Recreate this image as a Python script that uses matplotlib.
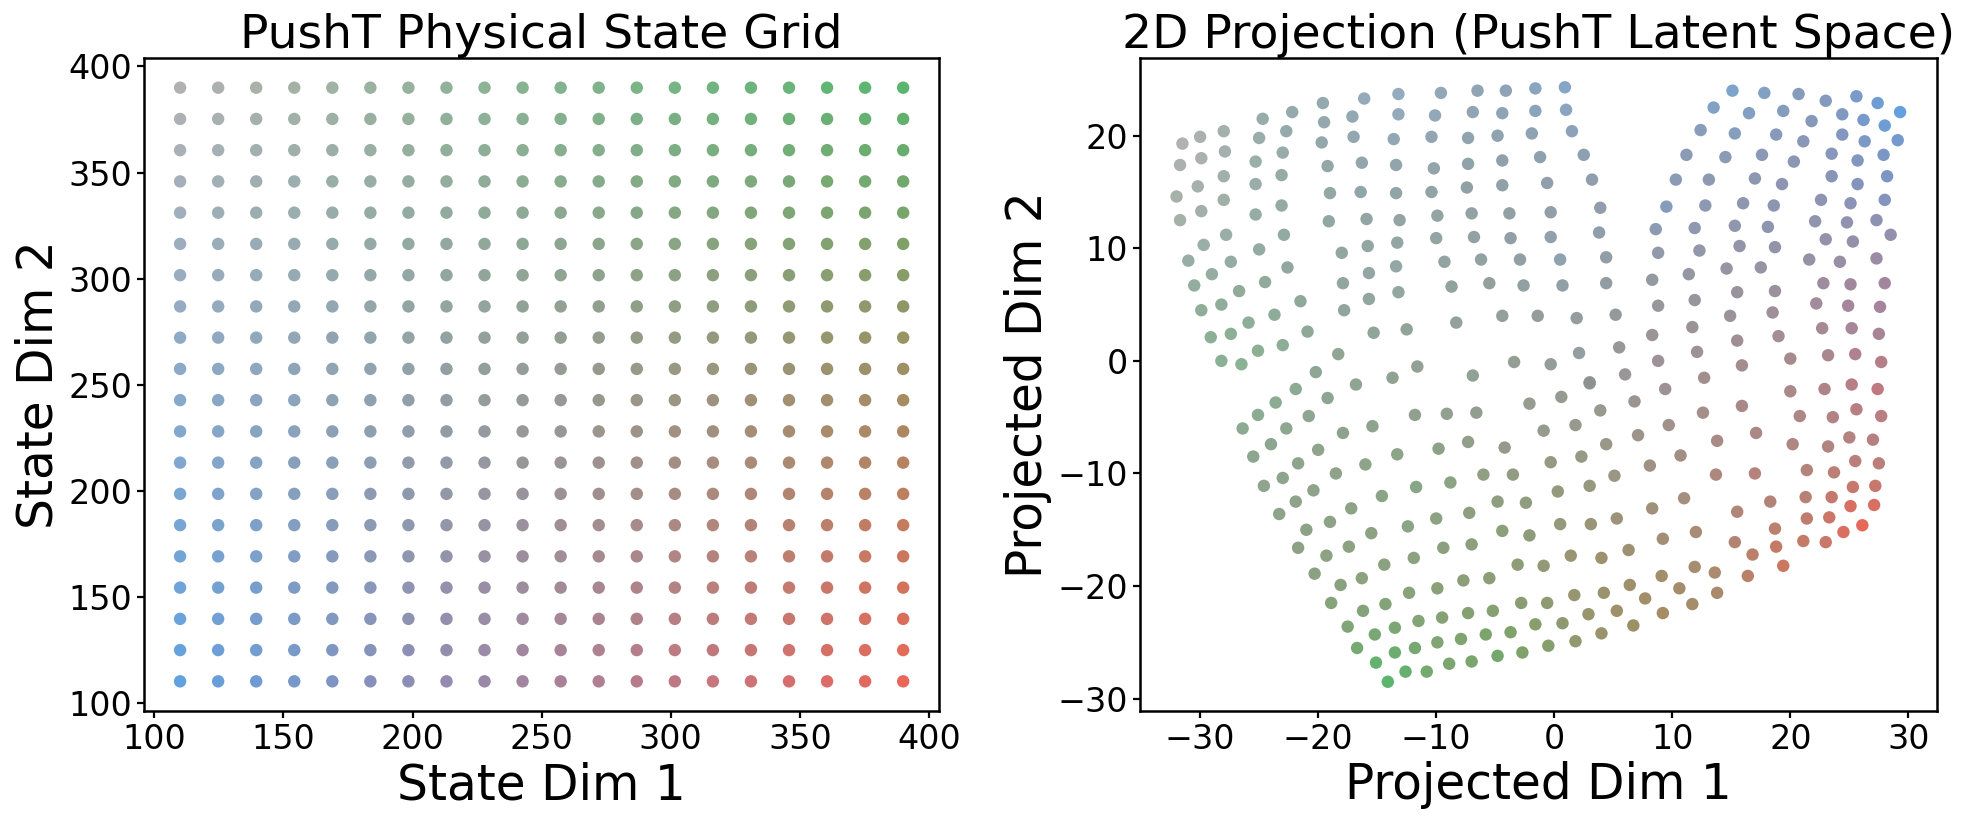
import numpy as np
import matplotlib
matplotlib.use("Agg")
import matplotlib.pyplot as plt

# physical grid (20 x 20)
state_dim1 = [110.0, 124.74, 139.47, 154.21, 168.95, 183.68, 198.42, 213.16, 227.89, 242.63,
              257.37, 272.11, 286.84, 301.58, 316.32, 331.05, 345.79, 360.53, 375.26, 390.0]
state_dim2 = [110.0, 124.74, 139.47, 154.21, 168.95, 183.68, 198.42, 213.16, 227.89, 242.63,
              257.37, 272.11, 286.84, 301.58, 316.32, 331.05, 345.79, 360.53, 375.26, 390.0]

# projected latent points
proj_x = [
    # upper left lobe
    -13.2, -9.6, -6.5, -16.1, -19.6, -22.2, -24.7, -28.0, -30.0, -31.5,
    -13.2, -10.1, -6.9, -17.1, -19.5, -22.7, -25.0, -17.0, -13.6, -10.4,
    -7.3, -19.7, -27.9, -31.7, -29.9, -25.3, -23.0, -19.2, -16.3, -13.4,
    -10.2, -7.3, -28.0, -30.2, -32.0, -25.3, -23.1, -19.0, -16.4, -13.4,
    -10.4, -7.4, -28.0, -29.9, -31.7, -25.3, -23.1, -19.1, -15.9, -13.1,
    -9.9, -7.0, -27.8, -29.7, -31.0, -25.0, -22.9, -18.0, -15.8, -13.3,
    -10.0, -6.8, -27.4, -29.0, -30.5, -22.6, -17.9, -15.7, -13.4, -9.3,
    -6.2, -26.7, -28.2, -29.9, -24.5, -21.5, -17.8, -15.7, -13.2, -8.7,
    -5.5, -25.9, -27.4, -29.1, -23.7, -20.9, -15.3, -12.5, -8.3, -25.1,
    -26.5, -28.2, -23.0, -18.3, -20.2, -13.7, -11.6, -6.9,
    # upper middle
    -4.1, -1.6, 0.9, -4.4, -1.6, 1.0, -4.8, -1.9, 1.5, -4.4, -1.2, 2.5,
    -4.4, -0.6, 3.2, -3.8, -0.3, 3.9, -3.7, -0.3, 3.8, -2.9, 0.5, 4.4,
    -2.6, 0.7, 4.4, -4.4, -1.4, 1.9, 5.2, -3.4, -0.3, 2.1, 5.5, 3.0, 6.0,
    # upper right lobe
    15.1, 17.8, 20.7, 23.0, 25.6, 27.4, 29.3,
    13.5, 16.5, 19.4, 21.8, 24.4, 26.2, 28.0, 29.1,
    12.4, 15.3, 18.8, 21.1, 24.4, 26.3,
    11.2, 14.5, 17.6, 20.3, 23.5, 25.7, 27.9,
    10.3, 13.1, 17.0, 19.3, 23.5, 25.7, 28.2,
    9.5, 12.8, 16.0, 18.6, 22.6, 25.1, 28.0,
    8.6, 11.9, 15.3, 18.1, 22.1, 24.8, 27.3, 28.5,
    8.8, 12.3, 15.7, 18.7, 23.0, 25.3,
    8.3, 11.4, 14.6, 17.5, 21.6, 24.2, 27.3,
    8.8, 11.9, 15.5, 18.7, 22.8, 25.1, 28.0,
    8.3, 11.7, 14.9, 18.5, 22.2, 24.9, 27.6,
    8.8, 12.1, 15.5, 19.0, 22.7, 25.2, 27.5,
    12.7, 15.9, 20.0, 23.2, 25.5, 27.7,
    # lower left
    -21.9, -16.8,
    -23.6, -19.2, -25.1, -20.8, -26.4, -22.7, -17.9, -15.4, -11.8, -9.1, -6.6,
    -24.0, -25.5, -20.0, -13.3, -9.8, -7.3,
    -21.7, -23.0, -24.6, -18.5, -16.0, -11.7, -8.8, -6.0,
    -20.4, -21.9, -23.3, -17.2, -14.6, -10.0, -7.2,
    -19.0, -21.0, -21.7, -15.5, -12.4,
    -17.4, -19.3, -20.3, -14.4, -11.9, -9.4, -7.0,
    -16.3, -18.1, -18.9, -12.3, -9.9, -7.7, -5.5,
    -14.3, -16.2, -17.5, -11.5, -9.5, -7.3, -5.2,
    -13.5, -15.2, -16.7, -11.8, -9.9, -7.9, -5.8,
    -13.5, -15.1, -14.1, -12.6, -10.8, -8.9, -7.0,
    # lower right
    3.0, 9.4, 20.0, 22.9, 25.2, 27.4,
    -2.1, 0.6, 6.8, 3.9, 12.6, 15.9, 20.8, 23.6, 25.6, 27.7,
    -0.9, 1.8, 7.1, 9.7, 13.8, 17.1, 20.2, 23.2, 25.0, 27.0,
    -4.2, -0.3, 2.3, 4.4, 8.1, 10.7, 13.7, 17.0, 21.4, 23.7, 25.5, 27.5,
    -3.5, 0.3, 3.0, 5.1, 11.0, 18.3, 21.3, 23.5, 25.3, 27.2,
    -4.8, -2.4, 8.3, 15.5, 21.4, 23.3, 25.1, 27.1,
    -4.4, -2.1, 0.5, 3.1, 5.3, 9.2, 12.0, 18.7, 21.1, 23.0, 24.5, 26.1,
    -3.1, -0.9, 1.4, 4.0, 6.3, 15.3, 16.8, 18.8, 19.4,
    9.1, 11.9, 13.6, 16.4,
    -2.8, -0.6, 1.7, 4.2, 6.4, 10.6, 7.7, 13.8, 11.7,
    -1.6, 0.7, 2.9, 5.3, 9.2,
    -3.7, 4.0, 6.7,
    -4.8, -2.7, -0.5, 1.8,
]
proj_y = [
    # upper left lobe
    23.7, 23.8, 24.0, 23.3, 22.9, 22.1, 21.5, 20.4, 19.9, 19.3,
    21.9, 21.8, 22.1, 21.7, 21.2, 20.4, 19.8, 19.9, 19.7, 19.9,
    19.8, 19.4, 18.6, 17.4, 18.0, 17.7, 18.5, 17.3, 17.6, 17.4,
    17.1, 17.5, 16.4, 15.5, 14.6, 15.7, 16.5, 14.9, 15.0, 14.9,
    15.0, 15.4, 14.3, 13.3, 12.5, 13.0, 13.8, 12.4, 12.6, 12.5,
    12.9, 13.1, 11.2, 10.3, 8.9, 9.9, 11.2, 9.6, 10.2, 10.5,
    10.9, 11.0, 8.8, 7.7, 6.7, 8.3, 6.9, 7.8, 8.4, 8.8,
    9.0, 6.2, 5.0, 4.5, 7.0, 5.3, 4.5, 5.5, 6.1, 6.6,
    6.9, 3.4, 2.4, 2.1, 4.1, 2.6, 2.5, 2.8, 3.4, 0.9,
    -0.3, 0.0, 1.4, 0.6, -1.0, -1.5, -0.5, -1.3,
    # upper middle
    24.0, 24.2, 24.3, 22.0, 22.2, 22.3, 20.0, 20.2, 20.4, 17.8, 18.1, 18.3,
    15.6, 15.8, 16.1, 13.1, 13.2, 13.6, 10.9, 11.0, 11.4, 9.0, 9.0, 9.2,
    6.7, 6.7, 6.9, 4.0, 4.0, 3.8, 4.1, -0.1, -0.3, 0.7, 1.2, -1.9, -1.2,
    # upper right lobe
    24.0, 23.8, 23.7, 23.1, 23.5, 22.9, 22.1,
    22.5, 22.0, 22.2, 21.3, 21.9, 21.4, 20.9, 19.6,
    20.5, 20.2, 20.1, 19.5, 20.1, 19.5,
    18.3, 18.1, 18.3, 17.7, 18.4, 17.8, 18.3,
    16.1, 16.1, 16.2, 15.7, 16.4, 15.7, 16.4,
    13.7, 13.8, 14.0, 13.8, 14.3, 14.0, 14.3,
    11.7, 11.8, 12.0, 11.9, 12.4, 12.3, 12.5, 11.2,
    9.6, 9.8, 10.2, 10.1, 10.8, 10.6,
    7.2, 7.7, 8.2, 8.3, 9.0, 8.8, 9.1,
    4.9, 5.4, 6.1, 6.2, 6.9, 6.8, 6.9,
    2.3, 3.0, 4.0, 4.3, 5.1, 4.9, 4.8,
    0.0, 0.8, 1.8, 2.2, 2.9, 2.9, 2.4,
    -1.5, -0.4, 0.2, 0.5, 0.6, -0.1,
    # lower left
    -2.5, -2.1,
    -3.7, -3.3, -4.8, -4.9, -6.0, -6.0, -6.4, -5.8, -4.8, -4.7, -4.6,
    -7.4, -8.5, -7.9, -8.3, -7.8, -7.2,
    -9.1, -10.4, -11.1, -10.0, -9.2, -11.2, -10.8, -10.1,
    -11.5, -12.5, -13.6, -13.1, -12.0, -14.0, -13.5,
    -14.3, -15.0, -16.6, -15.3, -14.7,
    -16.5, -17.3, -18.9, -18.1, -17.5, -16.6, -16.3,
    -19.3, -19.9, -21.5, -20.6, -20.2, -19.5, -19.3,
    -21.6, -22.2, -23.6, -23.1, -22.8, -22.4, -22.2,
    -23.7, -24.3, -25.5, -25.5, -25.0, -24.7, -24.3,
    -25.9, -26.8, -28.5, -27.6, -27.6, -26.9, -26.7,
    # lower right
    -2.0, -2.5, -2.7, -2.5, -2.1, -2.5,
    -3.8, -3.2, -3.6, -4.4, -4.6, -4.0, -4.9, -5.0, -4.3, -4.9,
    -6.2, -5.7, -6.6, -5.7, -7.1, -6.4, -7.4, -7.6, -6.8, -7.0,
    -7.7, -9.0, -8.5, -7.4, -9.3, -8.4, -10.1, -10.0, -9.7, -9.9, -8.9, -9.1,
    -10.1, -11.6, -11.1, -10.2, -12.2, -12.5, -12.1, -12.1, -11.2, -11.1,
    -12.5, -12.6, -13.1, -13.4, -14.0, -13.9, -12.9, -12.8,
    -15.1, -15.5, -14.5, -14.5, -14.0, -15.8, -15.2, -14.9, -16.0, -16.1, -15.2, -14.6,
    -18.1, -18.2, -17.3, -17.5, -16.8, -16.1, -17.2, -16.5, -18.2,
    -19.1, -18.3, -18.8, -19.1,
    -21.5, -21.5, -20.8, -20.6, -19.9, -20.2, -21.1, -20.6, -21.6,
    -23.4, -23.3, -22.5, -22.2, -22.4,
    -24.1, -24.2, -23.5,
    -26.2, -25.9, -25.3, -24.9,
]
assert len(proj_x) == len(proj_y)

# corner colours of the grid
c_bl = np.array([84, 153, 222]) / 255   # low dim1, low dim2
c_br = np.array([232, 89, 74]) / 255    # high dim1, low dim2
c_tr = np.array([76, 175, 98]) / 255    # high dim1, high dim2
c_tl = np.array([171, 171, 171]) / 255  # low dim1, high dim2


def mix(u, v):
    u = np.asarray(u)[:, None]
    v = np.asarray(v)[:, None]
    return (1 - u) * (1 - v) * c_bl + u * (1 - v) * c_br + u * v * c_tr + (1 - u) * v * c_tl


# colour anchors in projected space: (x, y, u, v)
anchors = np.array([
    [29.3, 22.1, 0.0, 0.0], [15.1, 24.0, 0.05, 0.3], [0.9, 24.3, 0.05, 0.45],
    [-13.2, 23.7, 0.03, 0.65], [-31.5, 19.3, 0.0, 1.0], [-32.0, 14.6, 0.12, 1.0],
    [-26.5, -0.3, 0.45, 1.0], [-14.1, -28.5, 1.0, 1.0], [-2.7, -25.9, 1.0, 0.75],
    [9.2, -22.4, 1.0, 0.45], [19.4, -18.2, 1.0, 0.2], [26.1, -14.6, 1.0, 0.0],
    [27.4, -2.5, 0.7, 0.0], [27.5, 4.8, 0.5, 0.0], [28.2, 16.4, 0.2, 0.0],
    [-13.4, 8.4, 0.3, 0.7], [-6.9, -1.3, 0.5, 0.65], [-11.8, -11.2, 0.65, 0.8],
    [0.3, -11.6, 0.75, 0.6], [8.8, 0.0, 0.5, 0.3], [2.1, 0.7, 0.4, 0.5],
    [9.5, 13.7, 0.2, 0.25], [18.6, 13.8, 0.3, 0.15], [15.9, -4.0, 0.65, 0.25],
    [17.0, -10.0, 0.75, 0.2], [0.5, 9.0, 0.25, 0.5], [4.0, -17.5, 0.9, 0.5],
    [-4.4, -15.1, 0.8, 0.7], [-2.1, -3.8, 0.55, 0.55], [6.7, -23.5, 1.0, 0.55],
    [-4.8, -26.2, 1.0, 0.85],
])

px = np.array(proj_x)
py = np.array(proj_y)
d2 = (px[:, None] - anchors[:, 0]) ** 2 + (py[:, None] - anchors[:, 1]) ** 2
w = 1.0 / (d2 + 1.0)
w = w / w.sum(axis=1, keepdims=True)
proj_colors = mix(w @ anchors[:, 2], w @ anchors[:, 3])

gx, gy = np.meshgrid(state_dim1, state_dim2)
gx, gy = gx.ravel(), gy.ravel()
grid_colors = mix((gx - 110) / 280, (gy - 110) / 280)

plt.rcParams['axes.linewidth'] = 1.8
plt.rcParams['xtick.major.width'] = 1.6
plt.rcParams['ytick.major.width'] = 1.6
plt.rcParams['xtick.major.size'] = 5
plt.rcParams['ytick.major.size'] = 5

fig = plt.figure(figsize=(19.61, 8.24), dpi=100)
ax1 = fig.add_axes([0.0734, 0.1371, 0.4056, 0.7925])
ax2 = fig.add_axes([0.5813, 0.1371, 0.4063, 0.7925])

ax1.scatter(gx, gy, c=grid_colors, s=80, linewidths=0, alpha=0.92)
ax1.set_xlim(96, 404)
ax1.set_ylim(96, 404)
ax1.set_xticks([100, 150, 200, 250, 300, 350, 400])
ax1.set_yticks([100, 150, 200, 250, 300, 350, 400])
ax1.set_title("PushT Physical State Grid", fontsize=34)
ax1.set_xlabel("State Dim 1", fontsize=35)
ax1.set_ylabel("State Dim 2", fontsize=35)

ax2.scatter(px, py, c=proj_colors, s=80, linewidths=0, alpha=0.92)
ax2.set_xlim(-35.1, 32.4)
ax2.set_ylim(-31.1, 26.9)
ax2.set_xticks([-30, -20, -10, 0, 10, 20, 30])
ax2.set_yticks([-30, -20, -10, 0, 10, 20])
ax2.set_title("2D Projection (PushT Latent Space)", fontsize=34)
ax2.set_xlabel("Projected Dim 1", fontsize=35)
ax2.set_ylabel("Projected Dim 2", fontsize=35)

for ax in (ax1, ax2):
    ax.tick_params(labelsize=24)

fig.savefig("out.png", dpi=100)
